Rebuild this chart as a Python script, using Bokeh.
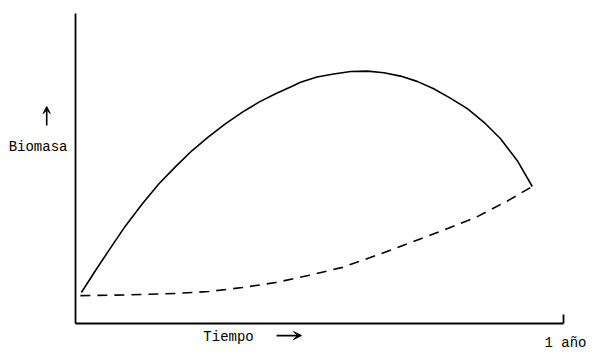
from bokeh.plotting import figure
from bokeh.models import Label, Arrow, VeeHead
from bokeh.core.properties import value
from bokeh.embed import file_html
from bokeh.resources import INLINE

# Time as fraction of a year, biomass in arbitrary units (axis top = 100)
solid_t = [0.012, 0.041, 0.068, 0.102, 0.137, 0.171, 0.205, 0.239, 0.273,
           0.307, 0.342, 0.376, 0.410, 0.444, 0.461, 0.495, 0.529, 0.564,
           0.598, 0.632, 0.666, 0.700, 0.734, 0.768, 0.803, 0.837, 0.871,
           0.905, 0.936]
solid_b = [10.0, 17.1, 23.5, 31.4, 38.6, 45.1, 50.6, 55.8, 60.3,
           64.4, 68.2, 71.4, 74.1, 76.5, 77.8, 79.5, 80.5, 81.3,
           81.4, 80.9, 79.8, 78.1, 75.7, 72.7, 69.3, 64.9, 59.6,
           52.6, 44.2]

dashed_t = [0.010, 0.102, 0.205, 0.273, 0.342, 0.410, 0.477, 0.547, 0.615,
            0.682, 0.752, 0.820, 0.887, 0.936]
dashed_b = [9.0, 9.2, 9.7, 10.3, 11.6, 13.2, 15.5, 18.1, 21.9,
            25.8, 30.0, 34.2, 39.7, 44.2]

x_axis_end = 1.0
y_axis_top = 100.0
x_tick = 1.0
x_tick_label = "1 año"
y_label = "Biomasa"
x_label = "Tiempo"

FONT = "Liberation Mono"

# frame spans the whole canvas; axes are drawn as plain lines
p = figure(width=600, height=358, output_backend="svg", toolbar_location=None,
           x_range=(-0.1537, 1.0758), y_range=(-11.29, 104.19),
           min_border=0)
p.outline_line_color = None
p.grid.visible = False
p.axis.visible = False
p.background_fill_color = "white"
p.border_fill_color = "white"

# axes
p.segment(x0=[0, 0], y0=[0, 0], x1=[0, x_axis_end], y1=[y_axis_top, 0],
          line_color="black", line_width=1.8)
# tick at one year
p.segment(x0=[x_tick], y0=[0], x1=[x_tick], y1=[2.9],
          line_color="black", line_width=1.8)
p.text(x=[x_tick + 0.004], y=[-6.3], text=[x_tick_label], text_font=value(FONT),
       text_font_size="14px", text_color="black", text_align="center",
       text_baseline="middle")

p.line(solid_t, solid_b, line_color="black", line_width=1.6)
p.line(dashed_t, dashed_b, line_color="black", line_width=1.6, line_dash="10 7")

p.add_layout(Label(x=-0.137, y=56.8, text=y_label, text_font=FONT,
                   text_font_size="14px", text_color="black",
                   text_baseline="middle", text_align="left"))
p.add_layout(Arrow(x_start=-0.059, y_start=63.9, x_end=-0.059, y_end=70.0,
                   line_width=1.6, line_color="black",
                   end=VeeHead(size=7, fill_color="black", line_color="black")))
p.add_layout(Label(x=0.262, y=-4.5, text=x_label, text_font=FONT,
                   text_font_size="14px", text_color="black",
                   text_baseline="middle", text_align="left"))
p.add_layout(Arrow(x_start=0.412, y_start=-3.9, x_end=0.463, y_end=-3.9,
                   line_width=1.8, line_color="black",
                   end=VeeHead(size=8, fill_color="black", line_color="black")))

open("out.html", "w").write(file_html(p, INLINE))
